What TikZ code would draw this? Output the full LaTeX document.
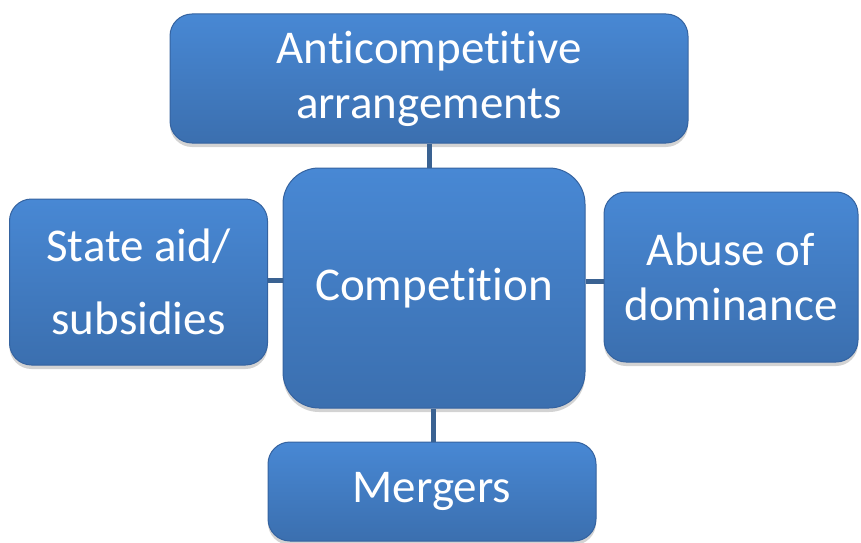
\documentclass[tikz,border=0pt]{standalone}
\usepackage{fontspec}
\setmainfont{Carlito}[Ligatures=NoCommon]
\usetikzlibrary{shadows,calc}

\definecolor{boxtop}{HTML}{4888D4}
\definecolor{boxbot}{HTML}{3B6FAF}
\definecolor{boxline}{HTML}{3563A0}
\definecolor{linkcol}{HTML}{3A6292}

\tikzset{
  topicbox/.style={rounded corners=22pt, top color=boxtop, bottom color=boxbot,
    draw=boxline, line width=1pt, text=white, align=center,
    font=\fontsize{47}{55}\selectfont, inner sep=0pt,
    drop shadow={shadow xshift=0pt, shadow yshift=-4pt, opacity=0.35}},
  link/.style={draw=linkcol, line width=5pt}
}

\begin{document}
\begin{tikzpicture}[x=1pt,y=1pt]
  \useasboundingbox (0,0) rectangle (861,542);
  % outer topics
  \node[topicbox, minimum width=518pt, minimum height=129pt] (anti) at (429,463.5)
    {Anticompetitive\\arrangements};
  \node[topicbox, minimum width=258pt, minimum height=166pt] (state) at (138.5,260)
    {State aid/\\[18pt]subsidies};
  \node[topicbox, minimum width=254pt, minimum height=170pt] (abuse) at (731,265)
    {Abuse of\\dominance};
  \node[topicbox, minimum width=328pt, minimum height=99pt] (merg) at (432,50.5)
    {Mergers};
  % centre
  \node[topicbox, rounded corners=36pt, minimum width=302pt, minimum height=240pt] (comp) at (434,254)
    {Competition};
  % links
  \draw[link] (anti.south) -- (anti.south |- comp.north);
  \draw[link] ($(state.east)+(0,2)$) -- ($(state.east -| comp.west)+(0,2)$);
  \draw[link] ($(abuse.west)+(0,-4)$) -- ($(abuse.west -| comp.east)+(0,-4)$);
  \draw[link] ($(merg.north)+(1,0)$) -- ($(merg.north |- comp.south)+(1,0)$);
\end{tikzpicture}
\end{document}
